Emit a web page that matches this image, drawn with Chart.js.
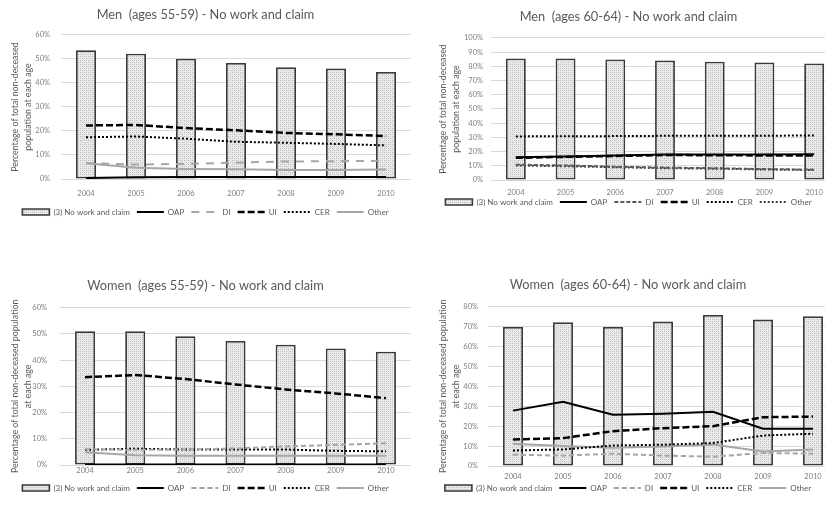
<!DOCTYPE html>
<html><head><meta charset="utf-8">
<script src="https://cdn.jsdelivr.net/npm/chart.js@4"></script>
<style>
html,body{margin:0;padding:0;background:#fff;overflow:hidden;width:825px;height:508px;position:relative;}
canvas{position:absolute;display:block;}
</style></head><body>
<canvas id="c1" width="415" height="230" style="left:0;top:0"></canvas>
<canvas id="c2" width="438" height="222" style="left:418px;top:0"></canvas>
<canvas id="c3" width="415" height="243" style="left:0;top:265px"></canvas>
<canvas id="c4" width="438" height="243" style="left:418px;top:265px"></canvas>
<script>
// ---- data ----
const years = ['2004','2005','2006','2007','2008','2009','2010'];
const seriesNames = ['(3) No work and claim','OAP','DI','UI','CER','Other'];

const men5559Title = 'Men  (ages 55-59) - No work and claim';
const men5559NoWork = [53.6, 52.2, 50.1, 48.3, 46.6, 46.0, 44.6];
const men5559OAP    = [0.4, 0.7, 0.8, 0.8, 0.8, 0.8, 0.8];
const men5559DI     = [6.6, 6.0, 6.3, 6.8, 7.3, 7.4, 7.6];
const men5559UI     = [22.3, 22.5, 21.2, 20.3, 19.2, 18.6, 17.9];
const men5559CER    = [17.4, 17.7, 16.8, 15.5, 15.1, 14.6, 14.0];
const men5559Other  = [6.6, 4.7, 4.2, 4.1, 3.8, 3.8, 4.0];
const men5559YMax = 60;

const men6064Title = 'Men  (ages 60-64) - No work and claim';
const men6064NoWork = [85.5, 85.5, 84.8, 84.2, 83.3, 82.8, 82.1];
const men6064OAP    = [16.1, 16.6, 17.2, 18.0, 18.0, 18.0, 18.2];
const men6064DI     = [10.8, 10.2, 9.4, 8.7, 8.3, 7.7, 7.3];
const men6064UI     = [15.6, 16.3, 16.9, 17.6, 17.4, 17.3, 17.3];
const men6064CER    = [30.7, 30.8, 30.9, 31.1, 31.2, 31.2, 31.3];
const men6064Other  = [10.2, 9.7, 9.0, 8.3, 8.0, 7.4, 7.0];
const men6064YMax = 100;

const women5559Title = 'Women  (ages 55-59) - No work and claim';
const women5559NoWork = [51.0, 51.0, 49.1, 47.3, 45.9, 44.4, 43.2];
const women5559OAP    = [0.2, 0.2, 0.2, 0.2, 0.2, 0.2, 0.2];
const women5559DI     = [6.0, 5.8, 5.9, 6.3, 7.1, 7.7, 8.3];
const women5559UI     = [33.5, 34.3, 32.8, 30.7, 28.8, 27.3, 25.5];
const women5559CER    = [5.8, 6.2, 5.9, 5.9, 5.9, 5.4, 5.2];
const women5559Other  = [4.9, 3.7, 3.5, 3.5, 3.5, 3.5, 3.5];
const women5559YMax = 60;

const women6064Title = 'Women  (ages 60-64) - No work and claim';
const women6064NoWork = [69.8, 72.2, 69.8, 72.5, 75.8, 73.5, 75.2];
const women6064OAP    = [27.8, 32.3, 25.7, 26.2, 27.2, 18.7, 18.7];
const women6064DI     = [5.7, 5.2, 6.2, 5.2, 4.7, 6.5, 6.2];
const women6064UI     = [13.3, 14.0, 17.5, 19.0, 20.0, 24.5, 24.8];
const women6064CER    = [7.8, 8.3, 10.3, 10.7, 11.5, 15.3, 16.2];
const women6064Other  = [11.2, 10.0, 9.2, 9.8, 10.8, 7.3, 8.3];
const women6064YMax = 80;

const yTitleShort = ['Percentage of total non-deceased', 'population at each age'];
const yTitleLong  = ['Percentage of total non-deceased population', 'at each age'];

// ---- styles ----
const FONT = 'Lato';
const baseStyles = {
  OAP:   {color:'#000000', width:2,   dash:[]},
  DI:    {color:'#a6a6a6', width:2,   dash:[5,3]},
  UI:    {color:'#000000', width:2.5, dash:[7,3]},
  CER:   {color:'#000000', width:2,   dash:[2,2]},
  Other: {color:'#a6a6a6', width:2,   dash:[]}
};
const tlStyles = Object.assign({}, baseStyles, {DI:{color:'#a6a6a6', width:2, dash:[8,7]}});
const trStyles = Object.assign({}, baseStyles, {
  DI:{color:'#595959', width:2, dash:[4,2]},
  Other:{color:'#404040', width:2, dash:[2,2]}
});

function makePattern(){
  const p = document.createElement('canvas'); p.width = 4; p.height = 4;
  const g = p.getContext('2d');
  g.fillStyle = '#e9e9e9'; g.fillRect(0,0,4,4);
  g.fillStyle = '#b8b8b8'; g.fillRect(0,0,1,1); g.fillRect(2,2,1,1);
  g.fillStyle = '#d2d2d2'; g.fillRect(2,0,1,1); g.fillRect(0,2,1,1);
  return g.createPattern(p, 'repeat');
}
const pattern = makePattern();

// moves the legend row vertically after layout (so it can sit close to the year labels)
const legendShift = {
  id:'legendShift',
  afterLayout(chart, args, opts){
    const dy = opts && opts.dy ? opts.dy : 0;
    if (chart.legend && dy) { chart.legend.top += dy; chart.legend.bottom += dy; }
  }
};

function makeChart(p){
  const datasets = [{
    type:'bar', label:seriesNames[0], data:p.bars, backgroundColor:pattern,
    borderColor:'#3a3a3a', borderWidth:1.8, borderSkipped:false,
    barPercentage:0.4, categoryPercentage:1, order:10
  }];
  p.lines.forEach((arr, i) => {
    const nm = seriesNames[i+1]; const st = p.styles[nm];
    datasets.push({type:'line', label:nm, data:arr, borderColor:st.color, borderWidth:st.width,
      borderDash:st.dash, pointRadius:0, fill:false, tension:0, order:1+i, borderCapStyle:'butt'});
  });
  new Chart(document.getElementById(p.id), {
    type:'bar',
    data:{labels:years, datasets},
    plugins:[legendShift],
    options:{
      responsive:false, animation:false, events:[],
      layout:{padding:{left:0, right:p.padR, top:0, bottom:p.padB}},
      plugins:{
        legendShift:{dy:p.legDy},
        title:{display:true, text:p.title, color:'#595959',
          font:{family:FONT, size:12.8, weight:'normal', lineHeight:1.2},
          padding:{top:p.tTop, bottom:p.tBot}},
        legend:{display:true, position:'bottom',
          labels:{usePointStyle:true, pointStyleWidth:27, boxHeight:6, padding:7, color:'#595959',
            font:{family:FONT, size:8},
            generateLabels:(chart) => chart.data.datasets.map((ds, i) => ({
              text:ds.label,
              fillStyle: i === 0 ? pattern : 'rgba(0,0,0,0)',
              strokeStyle: ds.borderColor,
              lineWidth: i === 0 ? 1.6 : ds.borderWidth,
              lineDash: i === 0 ? [] : ds.borderDash,
              pointStyle: i === 0 ? 'rect' : 'line',
              hidden:false, datasetIndex:i, fontColor:'#595959'
            }))}},
        tooltip:{enabled:false}
      },
      scales:{
        x:{grid:{display:false, drawTicks:false}, border:{display:false},
           ticks:{color:'#7f7f7f', font:{family:FONT, size:7.5}, padding:p.xPad, maxRotation:0},
           afterFit:(s) => { s.height = p.xH; }},
        y:{min:0, max:p.yMax, grid:{color:'#d9d9d9', drawTicks:false, lineWidth:1}, border:{display:false},
           ticks:{stepSize:10, color:'#7f7f7f', font:{family:FONT, size:7.5}, padding:p.yPad, callback:(v) => v + '%'},
           title:{display:true, text:p.yTitle, color:'#595959', font:{family:FONT, size:8.8, lineHeight:1.5},
             padding:{top:p.ytPad, bottom:0}},
           afterFit:(s) => { s.width = p.yW; }}
      }
    }
  });
}

makeChart({id:'c1', title:men5559Title, bars:men5559NoWork,
  lines:[men5559OAP, men5559DI, men5559UI, men5559CER, men5559Other], styles:tlStyles,
  yMax:men5559YMax, yTitle:yTitleShort,
  padR:4, padB:4, tTop:6.8, tBot:12.8, xH:22, xPad:10, yW:61, yPad:11, ytPad:8.5, legDy:0});

makeChart({id:'c2', title:men6064Title, bars:men6064NoWork,
  lines:[men6064OAP, men6064DI, men6064UI, men6064CER, men6064Other], styles:trStyles,
  yMax:men6064YMax, yTitle:yTitleShort,
  padR:17, padB:0, tTop:9.5, tBot:13.1, xH:17, xPad:8, yW:73, yPad:8, ytPad:18.7, legDy:-6});

makeChart({id:'c3', title:women5559Title, bars:women5559NoWork,
  lines:[women5559OAP, women5559DI, women5559UI, women5559CER, women5559Other], styles:baseStyles,
  yMax:women5559YMax, yTitle:yTitleLong,
  padR:4, padB:6, tTop:13.5, tBot:13.8, xH:12, xPad:1, yW:60, yPad:13, ytPad:8.4, legDy:0});

makeChart({id:'c4', title:women6064Title, bars:women6064NoWork,
  lines:[women6064OAP, women6064DI, women6064UI, women6064CER, women6064Other], styles:baseStyles,
  yMax:women6064YMax, yTitle:yTitleLong,
  padR:18, padB:1, tTop:11.8, tBot:14.5, xH:16, xPad:6.5, yW:70, yPad:10, ytPad:18.7, legDy:-5});
</script>
</body></html>
